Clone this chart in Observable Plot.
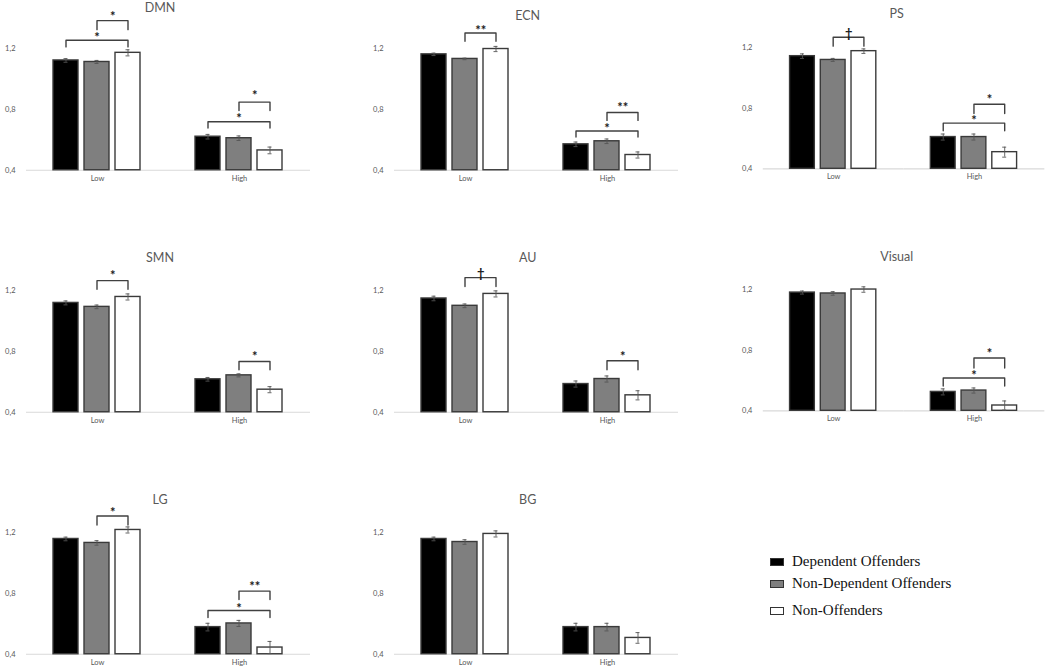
<!DOCTYPE html>
<html><head><meta charset="utf-8">
<script src="https://cdn.jsdelivr.net/npm/d3@7"></script>
<script src="https://cdn.jsdelivr.net/npm/@observablehq/plot@0.6"></script>
<style>
body{margin:0;background:#fff;}
#root{position:relative;width:1049px;height:672px;overflow:hidden;font-family:Lato,sans-serif;background:#fff;}
.panel{position:absolute;}
.title{position:absolute;transform:translate(-50%,-50%);font-size:12.5px;color:#595959;white-space:nowrap;}
.legend{position:absolute;left:770px;top:553px;font-family:"Liberation Serif",serif;font-size:15px;color:#111;}
.legend .item{position:absolute;left:0;white-space:nowrap;display:flex;align-items:center;}
.legend .sw{width:12px;height:6px;border:1px solid #333;margin-right:8px;}
</style></head><body><div id="root"></div>
<script>
// ---------------- data ----------------
const panelNames = ["DMN","ECN","PS","SMN","AU","Visual","LG","BG"];
const groups = ["Low","High"];
const seriesNames = ["Dependent Offenders","Non-Dependent Offenders","Non-Offenders"];
const seriesFills = ["#000000","#7f7f7f","#ffffff"];
const yTicks = [0.4, 0.8, 1.2];

// order: Low (Dep, NonDep, NonOff), High (Dep, NonDep, NonOff)
const meanDMN    = [1.12, 1.11, 1.17, 0.62, 0.61, 0.53];
const errDMN     = [0.012, 0.010, 0.020, 0.015, 0.015, 0.022];
const meanECN    = [1.16, 1.13, 1.195, 0.57, 0.59, 0.50];
const errECN     = [0.008, 0.005, 0.017, 0.015, 0.015, 0.020];
const meanPS     = [1.145, 1.12, 1.178, 0.61, 0.61, 0.51];
const errPS      = [0.015, 0.010, 0.015, 0.020, 0.020, 0.033];
const meanSMN    = [1.117, 1.091, 1.156, 0.616, 0.642, 0.548];
const errSMN     = [0.013, 0.012, 0.020, 0.012, 0.010, 0.020];
const meanAU     = [1.146, 1.098, 1.176, 0.585, 0.618, 0.511];
const errAU      = [0.015, 0.012, 0.020, 0.020, 0.020, 0.030];
const meanVisual = [1.182, 1.176, 1.202, 0.525, 0.534, 0.435];
const errVisual  = [0.010, 0.012, 0.018, 0.020, 0.017, 0.030];
const meanLG     = [1.156, 1.13, 1.215, 0.578, 0.602, 0.444];
const errLG      = [0.012, 0.015, 0.020, 0.025, 0.020, 0.040];
const meanBG     = [1.156, 1.136, 1.189, 0.578, 0.578, 0.507];
const errBG      = [0.012, 0.015, 0.020, 0.025, 0.025, 0.035];

// significance brackets: panel, group, from series index, to series index, top, leg end, label, label y
const brackets = [
  ["DMN","Low",1,2,1.381,1.322,"*",1.431],
  ["DMN","Low",0,2,1.252,1.209,"*",1.289],
  ["DMN","High",1,2,0.847,0.792,"*",0.912],
  ["DMN","High",0,2,0.718,0.677,"*",0.760],
  ["ECN","Low",1,2,1.300,1.246,"**",1.337],
  ["ECN","High",1,2,0.779,0.727,"**",0.831],
  ["ECN","High",0,2,0.657,0.618,"*",0.697],
  ["PS","Low",1,2,1.270,1.211,"†",1.314],
  ["PS","High",1,2,0.827,0.766,"*",0.878],
  ["PS","High",0,2,0.702,0.652,"*",0.740],
  ["SMN","Low",1,2,1.263,1.207,"*",1.316],
  ["SMN","High",1,2,0.733,0.679,"*",0.786],
  ["AU","Low",1,2,1.283,1.224,"†",1.331],
  ["AU","High",1,2,0.738,0.679,"*",0.786],
  ["Visual","High",1,2,0.749,0.683,"*",0.799],
  ["Visual","High",0,2,0.617,0.564,"*",0.656],
  ["LG","Low",1,2,1.307,1.248,"*",1.353],
  ["LG","High",1,2,0.814,0.759,"**",0.862],
  ["LG","High",0,2,0.687,0.641,"*",0.724]
];

const panelData = {
  DMN:[meanDMN,errDMN], ECN:[meanECN,errECN], PS:[meanPS,errPS],
  SMN:[meanSMN,errSMN], AU:[meanAU,errAU], Visual:[meanVisual,errVisual],
  LG:[meanLG,errLG], BG:[meanBG,errBG]
};

// ---------------- layout ----------------
const colX = [25, 392.7, 761.7];
const rowBase = [169.5, 412, 654];
const titleY = [[7, 15, 13], [256.7, 256.7, 256], [499, 499.3, 0]];
const plotW = 285, mL = 25, mR = 5, mT = 2, mB = 20;
const yTop = 1.5, pxPerUnit = 152.5;
const innerH = (yTop - yTicks[0]) * pxPerUnit;
const padIn = 0.19, padOut = 0.857;
const step = (plotW / 2) / (3 - padIn + 2 * padOut);

const root = document.getElementById("root");

function panelPlot(name) {
  const [mean, err] = panelData[name];
  const rows = [];
  groups.forEach((g, gi) => seriesNames.forEach((s, si) => {
    const v = mean[gi * 3 + si], e = err[gi * 3 + si];
    rows.push({group: g, series: s, value: v, lo: v - e, hi: v + e});
  }));
  const br = brackets.filter(b => b[0] === name);
  const lines = [], labels = [];
  br.forEach((b, i) => {
    const [, g, a, c, top, leg, lab, ly] = b;
    lines.push({id: i, group: g, series: seriesNames[a], y: leg});
    lines.push({id: i, group: g, series: seriesNames[a], y: top});
    lines.push({id: i, group: g, series: seriesNames[c], y: top});
    lines.push({id: i, group: g, series: seriesNames[c], y: leg});
    const mid = (a + c) / 2;
    labels.push({group: g, series: seriesNames[Math.floor(mid)], half: mid !== Math.floor(mid), label: lab, y: ly});
  });
  const base = yTicks[0];
  const labelStyle = {fx: "group", x: "series", y: "y", text: "label", fontSize: 13, fontWeight: "bold", fill: "#1a1a1a", dy: 3.5};
  return Plot.plot({
    width: mL + plotW + mR,
    height: mT + innerH + mB,
    marginLeft: mL, marginRight: mR, marginTop: mT, marginBottom: mB,
    style: {fontFamily: "Lato, sans-serif", fontSize: "7.5px", color: "#595959", background: "transparent", overflow: "visible"},
    fx: {domain: groups, padding: 0, axis: "bottom", label: null, tickSize: 0, tickPadding: 5},
    x: {domain: seriesNames, axis: null, paddingInner: padIn, paddingOuter: padOut},
    y: {domain: [base, yTop], ticks: yTicks, tickFormat: d => d.toFixed(1).replace(".", ","), tickSize: 0, tickPadding: 11, label: null},
    color: {domain: seriesNames, range: seriesFills},
    marks: [
      Plot.ruleY([base], {stroke: "#d9d9d9", strokeWidth: 1.2}),
      Plot.barY(rows, {fx: "group", x: "series", y1: base, y2: "value", fill: "series", stroke: "#3a3a3a", strokeWidth: 1.4}),
      Plot.ruleX(rows, {fx: "group", x: "series", y1: "lo", y2: "hi", stroke: "#555", strokeWidth: 0.9}),
      Plot.tickY(rows, {fx: "group", x: "series", y: "lo", stroke: "#555", strokeWidth: 0.9, insetLeft: 10.5, insetRight: 10.5}),
      Plot.tickY(rows, {fx: "group", x: "series", y: "hi", stroke: "#555", strokeWidth: 0.9, insetLeft: 10.5, insetRight: 10.5}),
      Plot.line(lines, {fx: "group", x: "series", y: "y", z: "id", stroke: "#404040", strokeWidth: 1.4, strokeLinejoin: "round"}),
      Plot.text(labels.filter(l => !l.half), labelStyle),
      Plot.text(labels.filter(l => l.half), {...labelStyle, dx: step / 2})
    ]
  });
}

panelNames.forEach((name, i) => {
  const r = Math.floor(i / 3), c = i % 3;
  const div = document.createElement("div");
  div.className = "panel";
  div.style.left = (colX[c] - mL) + "px";
  div.style.top = (rowBase[r] - innerH - mT) + "px";
  div.appendChild(panelPlot(name));
  root.appendChild(div);
  const t = document.createElement("div");
  t.className = "title";
  t.textContent = name;
  t.style.left = (colX[c] + 135) + "px";
  t.style.top = titleY[r][c] + "px";
  root.appendChild(t);
});

// legend
const legend = document.createElement("div");
legend.className = "legend";
const legendTops = [0, 22, 49];
seriesNames.forEach((s, i) => {
  const it = document.createElement("div");
  it.className = "item";
  it.style.top = legendTops[i] + "px";
  const sw = document.createElement("span");
  sw.className = "sw";
  sw.style.background = seriesFills[i];
  const tx = document.createElement("span");
  tx.textContent = s;
  it.appendChild(sw); it.appendChild(tx);
  legend.appendChild(it);
});
root.appendChild(legend);
</script></body></html>
